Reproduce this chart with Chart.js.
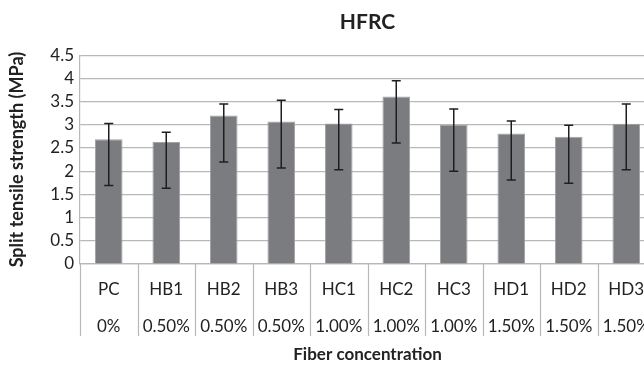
<!DOCTYPE html>
<html>
<head>
<meta charset="utf-8">
<script src="https://cdn.jsdelivr.net/npm/chart.js@4/dist/chart.umd.min.js"></script>
<style>
html,body{margin:0;padding:0;background:#fff;overflow:hidden;width:644px;height:365px;}
#wrap{width:734px;height:365px;}
</style>
</head>
<body>
<div id="wrap"><canvas id="c" width="734" height="365"></canvas></div>
<script>
const categories = ['PC','HB1','HB2','HB3','HC1','HC2','HC3','HD1','HD2','HD3'];
const concentrations = ['0%','0.50%','0.50%','0.50%','1.00%','1.00%','1.00%','1.50%','1.50%','1.50%'];
const strength = [2.69, 2.63, 3.20, 3.07, 3.03, 3.61, 3.00, 2.81, 2.74, 3.02];
const errUpper = [3.03, 2.84, 3.45, 3.53, 3.33, 3.95, 3.34, 3.08, 2.99, 3.45];
const errLower = [1.69, 1.63, 2.20, 2.07, 2.03, 2.61, 2.00, 1.81, 1.74, 2.03];
const yMin = 0, yMax = 4.5, yStep = 0.5;

const labels = categories.map((c, i) => [c, concentrations[i]]);
const FONT = 'Lato, "Open Sans", sans-serif';
const GRID = '#b8b8b8';

const errorBars = {
  id: 'errorBars',
  afterDatasetsDraw(chart) {
    const ctx = chart.ctx;
    const y = chart.scales.y;
    const meta = chart.getDatasetMeta(0);
    ctx.save();
    ctx.strokeStyle = '#1e1e1e';
    ctx.lineWidth = 1.5;
    meta.data.forEach((bar, i) => {
      const x = bar.x;
      const yh = y.getPixelForValue(errUpper[i]);
      const yl = y.getPixelForValue(errLower[i]);
      ctx.beginPath();
      ctx.moveTo(x, yh); ctx.lineTo(x, yl);
      ctx.moveTo(x - 4.5, yh); ctx.lineTo(x + 4.5, yh);
      ctx.moveTo(x - 4.5, yl); ctx.lineTo(x + 4.5, yl);
      ctx.stroke();
    });
    ctx.restore();
  }
};

const dividers = {
  id: 'dividers',
  afterDraw(chart) {
    const ctx = chart.ctx;
    const xs = chart.scales.x;
    const n = categories.length;
    const w = (xs.right - xs.left) / n;
    const top = chart.chartArea.bottom;
    ctx.save();
    ctx.strokeStyle = GRID;
    ctx.lineWidth = 1.2;
    for (let i = 0; i <= n; i++) {
      const x = Math.round(xs.left + i * w) + 0.5;
      ctx.beginPath();
      ctx.moveTo(x, top);
      ctx.lineTo(x, top + 72);
      ctx.stroke();
    }
    ctx.restore();
  }
};

new Chart(document.getElementById('c'), {
  type: 'bar',
  data: {
    labels: labels,
    datasets: [{
      data: strength,
      backgroundColor: '#7b7c80',
      borderColor: '#a2a2a4',
      borderWidth: 1,
      barPercentage: 0.48,
      categoryPercentage: 1.0
    }]
  },
  options: {
    responsive: false,
    animation: false,
    devicePixelRatio: 1,
    layout: { padding: { left: 0, right: 79, top: 0, bottom: 0 } },
    plugins: {
      legend: { display: false },
      tooltip: { enabled: false },
      title: {
        display: true,
        fullSize: false,
        text: 'HFRC',
        color: '#222',
        font: { family: FONT, size: 21, weight: 'bold', lineHeight: 1.2 },
        padding: { top: 10, bottom: 20 }
      }
    },
    scales: {
      x: {
        grid: { display: false },
        border: { display: true, color: GRID, width: 1.2 },
        ticks: {
          color: '#222',
          padding: -1,
          maxRotation: 0,
          autoSkip: false,
          font: { family: FONT, size: 17, lineHeight: '37px' }
        },
        title: {
          display: true,
          text: 'Fiber concentration',
          color: '#222',
          font: { family: FONT, size: 17, weight: 'bold', lineHeight: 1.2 },
          padding: { top: 0, bottom: 0 }
        },
        afterFit(s) { s.height = 101; }
      },
      y: {
        min: yMin,
        max: yMax,
        ticks: {
          stepSize: yStep,
          autoSkip: false,
          color: '#222',
          padding: 6,
          font: { family: FONT, size: 17, lineHeight: 1.0 },
          callback: (v) => String(Number(v.toFixed(2)))
        },
        grid: { color: GRID, lineWidth: 1.2, drawTicks: false },
        border: { display: true, color: GRID, width: 1.2 },
        title: {
          display: true,
          text: 'Split tensile strength (MPa)',
          color: '#222',
          font: { family: FONT, size: 18, weight: 'bold', lineHeight: 1.2 },
          padding: { top: 6, bottom: 0 }
        },
        afterFit(s) { s.width = 80; }
      }
    }
  },
  plugins: [errorBars, dividers]
});
</script>
</body>
</html>
